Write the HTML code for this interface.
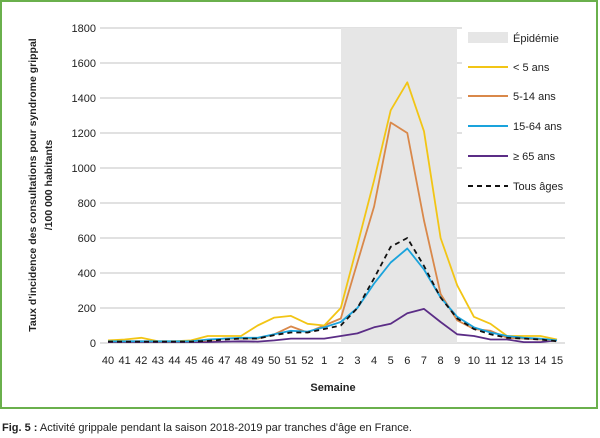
<!DOCTYPE html>
<html><head><meta charset="utf-8">
<style>
html,body{margin:0;padding:0;background:#fff;}
body{width:600px;height:438px;overflow:hidden;position:relative;font-family:"Liberation Sans",sans-serif;}
</style></head>
<body>
<svg width="600" height="438" xmlns="http://www.w3.org/2000/svg" style="position:absolute;left:0;top:0" font-family="Liberation Sans, sans-serif">
<rect x="1" y="1" width="596" height="407" fill="#fff" stroke="#6ab04c" stroke-width="2"/>
<g id="grid" stroke="#cfcfcf" stroke-width="1.3"></g>
<rect x="341" y="28" width="116" height="315" fill="#e6e6e6"/>
<rect x="462" y="24" width="130" height="176" fill="#fff"/>
<g id="ticks" font-size="11" fill="#222" text-anchor="end"></g>
<g id="xt" font-size="11" fill="#222" text-anchor="middle"></g>
<g id="lines" fill="none" stroke-width="1.8" stroke-linejoin="round"></g>
<text transform="translate(36,185) rotate(-90)" text-anchor="middle" font-size="10.5" font-weight="bold" fill="#222">Taux d'incidence des consultations pour syndrome grippal</text>
<text transform="translate(52,185) rotate(-90)" text-anchor="middle" font-size="10.5" font-weight="bold" fill="#222">/100 000 habitants</text>
<text x="333" y="391" text-anchor="middle" font-size="11" font-weight="bold" fill="#222">Semaine</text>
<rect x="468" y="32" width="40" height="11" fill="#e6e6e6"/>
<text x="513" y="42" font-size="11" fill="#222">Épidémie</text>
<line x1="468" y1="67" x2="508" y2="67" stroke="#f2c515" stroke-width="2"/>
<text x="513" y="71" font-size="11" fill="#222">&lt; 5 ans</text>
<line x1="468" y1="96" x2="508" y2="96" stroke="#d9884a" stroke-width="2"/>
<text x="513" y="100" font-size="11" fill="#222">5-14 ans</text>
<line x1="468" y1="126" x2="508" y2="126" stroke="#1aa3dc" stroke-width="2"/>
<text x="513" y="130" font-size="11" fill="#222">15-64 ans</text>
<line x1="468" y1="156" x2="508" y2="156" stroke="#5b2d86" stroke-width="2"/>
<text x="513" y="160" font-size="11" fill="#222">≥ 65 ans</text>
<line x1="468" y1="186" x2="508" y2="186" stroke="#111" stroke-width="2" stroke-dasharray="5,4"/>
<text x="513" y="190" font-size="11" fill="#222">Tous âges</text>
<text x="2" y="431" font-size="11" fill="#222"><tspan font-weight="bold">Fig. 5 :</tspan> Activité grippale pendant la saison 2018-2019 par tranches d'âge en France.</text>
</svg>
<script>
var NS="http://www.w3.org/2000/svg";
function el(p,t,a,txt){var e=document.createElementNS(NS,t);for(var k in a)e.setAttribute(k,a[k]);if(txt!=null)e.textContent=txt;document.getElementById(p).appendChild(e);}
for(var v=0;v<=1800;v+=200){var y=343-v*0.175;
 el("grid","line",{x1:100,x2:v>=1400?590:565,y1:y,y2:y});
 el("ticks","text",{x:96,y:y+4},String(v));}
var labs=[40,41,42,43,44,45,46,47,48,49,50,51,52,1,2,3,4,5,6,7,8,9,10,11,12,13,14,15];
function X(i){return 108+i*16.63;}
labs.forEach(function(l,i){el("xt","text",{x:X(i),y:364},String(l));});
var S=[
["#5b2d86",null,[5,5,5,5,5,5,5,8,10,8,15,25,25,25,40,55,90,110,170,195,120,50,40,20,20,5,5,15]],
["#d9884a",null,[10,10,10,8,8,10,15,25,25,25,50,95,60,100,140,460,780,1260,1200,700,280,130,80,70,30,25,20,15]],
["#f2c515",null,[15,20,30,10,10,15,40,40,40,100,145,155,110,100,200,560,930,1330,1490,1210,600,330,150,110,40,40,40,20]],
["#1aa3dc",null,[10,10,10,10,10,10,20,25,30,30,50,70,65,90,120,200,340,460,540,420,260,150,90,60,40,30,25,15]],
["#111","5,4",[8,8,8,8,8,8,12,20,25,25,45,60,60,80,100,200,370,550,600,440,260,140,80,50,30,25,20,10]]];
S.forEach(function(s){var p=s[2].map(function(v,i){return X(i).toFixed(1)+","+(343-v*0.175).toFixed(1);}).join(" ");
 var a={points:p,stroke:s[0]};if(s[1])a["stroke-dasharray"]=s[1];el("lines","polyline",a);});
</script>
</body></html>
